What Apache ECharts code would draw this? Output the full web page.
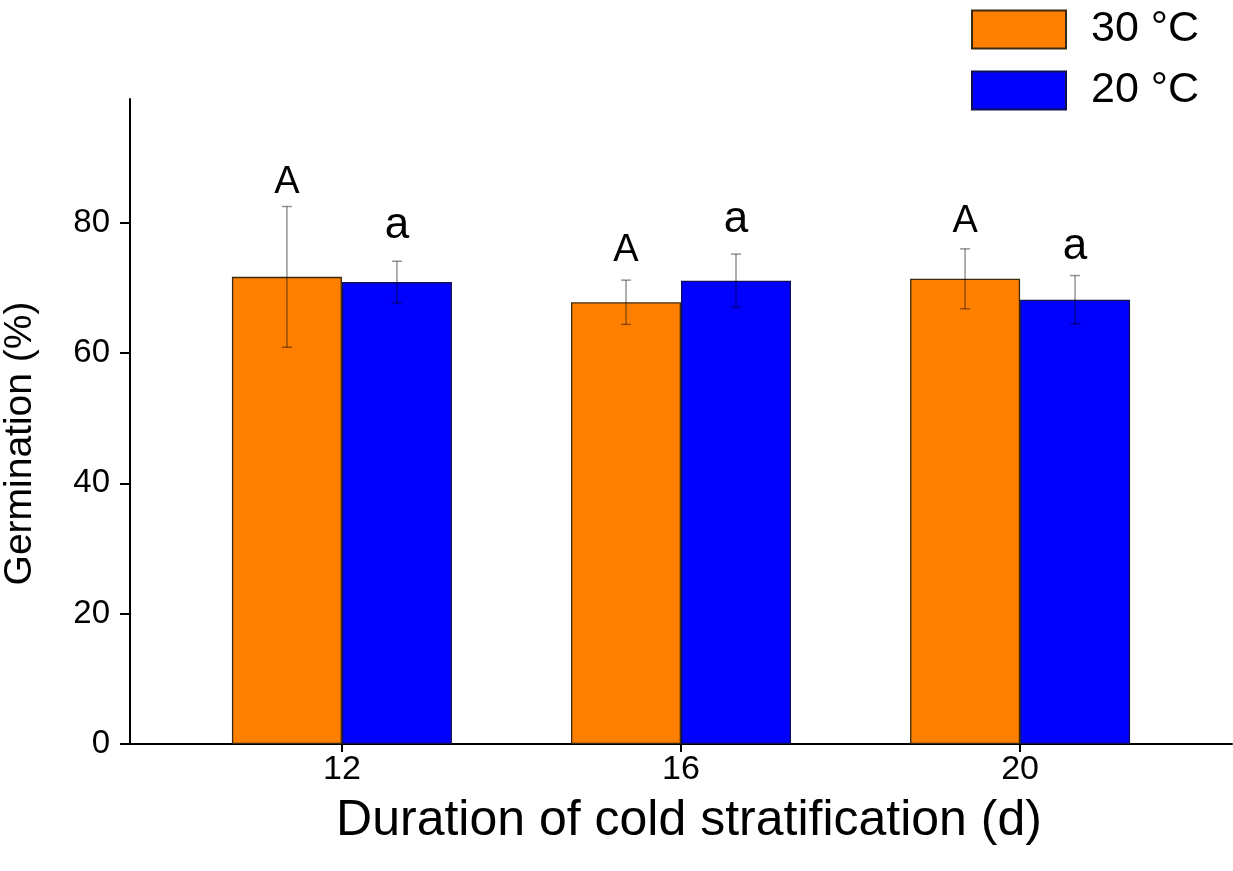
<!DOCTYPE html>
<html>
<head>
<meta charset="utf-8">
<script src="https://cdn.jsdelivr.net/npm/echarts@6/dist/echarts.min.js"></script>
<style>html,body{margin:0;padding:0;background:#fff;}#c{width:1233px;height:871px;}</style>
</head>
<body>
<div id="c"></div>
<script>
const categories = [12, 16, 20];
const warmName = '30 °C';
const coolName = '20 °C';
const warm = [71.7, 67.8, 71.4];
const warmErr = [10.8, 3.4, 4.6];
const cool = [70.9, 71.1, 68.2];
const coolErr = [3.2, 4.1, 3.7];
const warmLetters = ['A', 'A', 'A'];
const warmLetterY = [86.2, 75.8, 80.2];
const coolLetters = ['a', 'a', 'a'];
const coolLetterY = [79.6, 80.4, 76.3];
const yTicks = [0, 20, 40, 60, 80];
const xTicks = [12, 16, 20];

const FONT = 'Liberation Sans, Arial, sans-serif';
const BAR_W = 110;

function errSeries(vals, errs, off) {
  return {
    type: 'custom',
    silent: true,
    z: 5,
    clip: false,
    encode: { x: 0, y: [1, 2] },
    data: categories.map((c, i) => [c, vals[i] - errs[i], vals[i] + errs[i]]),
    renderItem: function (params, api) {
      const lo = api.coord([api.value(0), api.value(1)]);
      const hi = api.coord([api.value(0), api.value(2)]);
      const x = lo[0] + off;
      const st = { stroke: 'rgba(0,0,0,0.42)', lineWidth: 1.5 };
      return {
        type: 'group',
        children: [
          { type: 'line', shape: { x1: x, y1: lo[1], x2: x, y2: hi[1] }, style: st },
          { type: 'line', shape: { x1: x - 5, y1: lo[1], x2: x + 5, y2: lo[1] }, style: st },
          { type: 'line', shape: { x1: x - 5, y1: hi[1], x2: x + 5, y2: hi[1] }, style: st }
        ]
      };
    }
  };
}

function letterSeries(letters, ys, off, size) {
  return {
    type: 'custom',
    silent: true,
    z: 6,
    clip: false,
    encode: { x: 0, y: 1 },
    data: categories.map((c, i) => [c, ys[i]]),
    renderItem: function (params, api) {
      const p = api.coord([api.value(0), api.value(1)]);
      return {
        type: 'text',
        style: {
          x: p[0] + off, y: p[1], text: letters[params.dataIndex],
          fill: '#000', font: size + 'px ' + FONT,
          textAlign: 'center', textVerticalAlign: 'middle'
        }
      };
    }
  };
}

const chart = echarts.init(document.getElementById('c'), null, { renderer: 'canvas' });
chart.setOption({
  animation: false,
  backgroundColor: '#fff',
  textStyle: { fontFamily: FONT },
  grid: { left: 130, right: 1, top: 99, bottom: 127, containLabel: false, outerBoundsMode: 'none' },
  legend: {
    data: [warmName, coolName],
    orient: 'vertical',
    left: 971,
    top: 8,
    padding: 0,
    itemWidth: 94,
    itemHeight: 38,
    itemGap: 18,
    icon: 'rect',
    textStyle: { fontSize: 43, color: '#000', fontFamily: FONT, padding: [0, 0, 0, 20] }
  },
  xAxis: {
    type: 'value',
    min: 9.5,
    max: 22.5,
    splitLine: { show: false },
    axisLine: { show: true, lineStyle: { color: '#000', width: 2 } },
    axisTick: { show: true, customValues: xTicks, length: 8, lineStyle: { color: '#000', width: 2 } },
    axisLabel: { customValues: xTicks, fontSize: 34, color: '#000', margin: 9, fontFamily: FONT },
    name: 'Duration of cold stratification (d)',
    nameLocation: 'middle',
    nameGap: 52,
    nameTextStyle: { fontSize: 50, color: '#000', fontFamily: FONT, padding: [0, 0, 0, 16] }
  },
  yAxis: {
    type: 'value',
    min: 0,
    max: 99,
    splitLine: { show: false },
    axisLine: { show: true, lineStyle: { color: '#000', width: 2 } },
    axisTick: { show: true, customValues: yTicks, length: 10, lineStyle: { color: '#000', width: 2 } },
    axisLabel: { customValues: yTicks, fontSize: 33, color: '#000', margin: 20, fontFamily: FONT },
    name: 'Germination (%)',
    nameLocation: 'middle',
    nameGap: 90,
    nameTextStyle: { fontSize: 39, color: '#000', fontFamily: FONT, padding: [0, 44, 0, 0] }
  },
  series: [
    {
      name: warmName, type: 'bar', barWidth: BAR_W, barGap: '0%',
      itemStyle: { color: '#FF8000', borderColor: '#3a2a12', borderWidth: 1.3 },
      data: categories.map((c, i) => [c, warm[i]])
    },
    {
      name: coolName, type: 'bar', barWidth: BAR_W, barGap: '0%',
      itemStyle: { color: '#0000FF', borderColor: '#101050', borderWidth: 1.3 },
      data: categories.map((c, i) => [c, cool[i]])
    },
    errSeries(warm, warmErr, -BAR_W / 2),
    errSeries(cool, coolErr, BAR_W / 2),
    letterSeries(warmLetters, warmLetterY, -BAR_W / 2, 38),
    letterSeries(coolLetters, coolLetterY, BAR_W / 2, 44)
  ]
});
</script>
</body>
</html>
